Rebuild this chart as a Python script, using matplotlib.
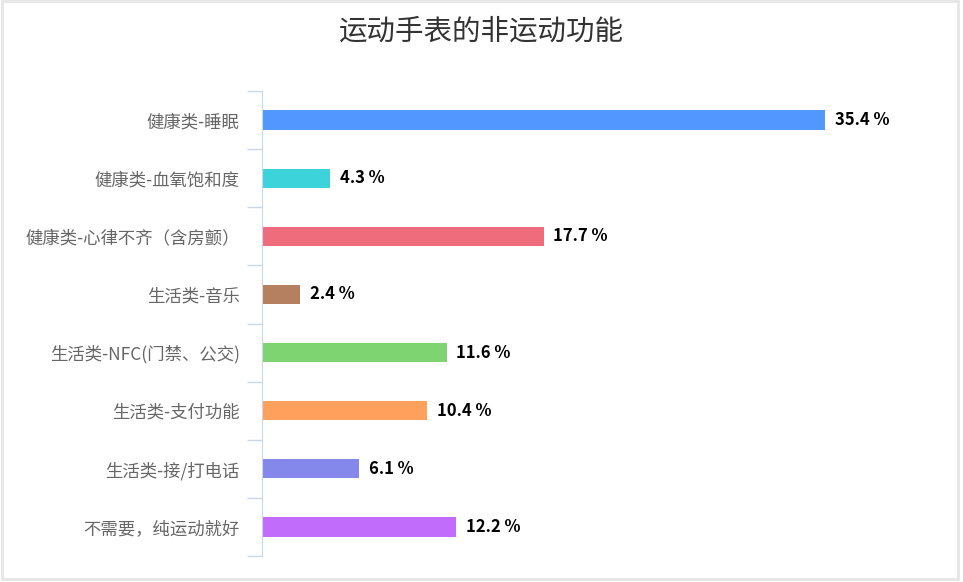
import matplotlib.pyplot as plt
from matplotlib.patches import Rectangle

plt.rcParams['font.family'] = ['Noto Sans CJK SC', 'DejaVu Sans']

categories = ['健康类-睡眠', '健康类-血氧饱和度', '健康类-心律不齐（含房颤）', '生活类-音乐',
              '生活类-NFC(门禁、公交)', '生活类-支付功能', '生活类-接/打电话', '不需要，纯运动就好']
values = [35.4, 4.3, 17.7, 2.4, 11.6, 10.4, 6.1, 12.2]
colors = ['#5197ff', '#3dd3db', '#ef6c7c', '#b5805f', '#7ed470', '#ffa05c', '#8488ea', '#c26cfb']

fig = plt.figure(figsize=(9.63, 5.82), dpi=100)
fig.patches.append(Rectangle((0.002, 0.005), 0.993, 0.993, transform=fig.transFigure,
                             fill=False, edgecolor='#e6e6e6', linewidth=2))
ax = fig.add_axes([262 / 963, 1 - 556 / 582, 638 / 963, 465 / 582])

y = range(len(categories))
ax.barh(y, values, height=0.33, color=colors)
for i, v in enumerate(values):
    ax.text(v + 0.6, i, f'{v} %', va='center', ha='left', fontsize=12,
            fontweight='bold', color='#000000')

ax.set_ylim(len(categories) - 0.5, -0.5)
ax.set_xlim(0, 40.1)
ax.set_yticks(list(y))
ax.set_yticklabels(categories, fontsize=12.5, color='#666666')
ax.tick_params(axis='y', which='major', length=0, pad=16)
ax.set_yticks([i - 0.5 for i in range(len(categories) + 1)], minor=True)
ax.tick_params(axis='y', which='minor', length=11, width=1, color='#ccd6eb')
ax.set_xticks([])
for s in ['top', 'right', 'bottom']:
    ax.spines[s].set_visible(False)
ax.spines['left'].set_color('#ccd6eb')

fig.text(0.5, 1 - 32 / 582, '运动手表的非运动功能', ha='center', va='center',
         fontsize=20.5, color='#333333')

fig.savefig('out.png', dpi=100)
